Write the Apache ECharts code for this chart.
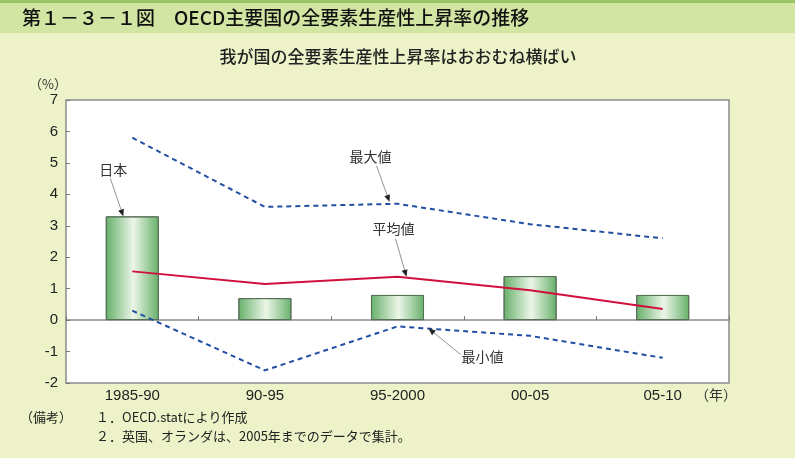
<!DOCTYPE html>
<html>
<head>
<meta charset="utf-8">
<script src="https://cdn.jsdelivr.net/npm/echarts@6/dist/echarts.min.js"></script>
<style>
  html, body { margin: 0; padding: 0; background: #eef2c8; }
  #main { width: 795px; height: 458px; }
</style>
</head>
<body>
<div id="main"></div>
<script>
// 期間
const periods = ['1985-90', '90-95', '95-2000', '00-05', '05-10'];
// 日本（棒）
const japan = [3.3, 0.7, 0.8, 1.4, 0.8];
// OECD主要国の最大値・平均値・最小値
const maxVals = [5.8, 3.6, 3.7, 3.05, 2.6];
const avgVals = [1.55, 1.15, 1.38, 0.95, 0.35];
const minVals = [0.3, -1.6, -0.2, -0.5, -1.2];
const yTicks = { min: -2, max: 7, interval: 1 };

const FONT = '"Noto Sans CJK JP", "Noto Sans", sans-serif';
const myChart = echarts.init(document.getElementById('main'));

const option = {
  backgroundColor: '#eef2c8',
  animation: false,
  textStyle: { fontFamily: FONT },
  grid: {
    left: 66, right: 66, top: 100, bottom: 75,
    show: true, backgroundColor: '#fff', borderColor: '#8a8a8a', borderWidth: 1.5
  },
  xAxis: [
    {
      type: 'category', data: periods, position: 'bottom',
      axisLine: { show: false, onZero: false },
      axisTick: { show: false },
      axisLabel: { color: '#222', fontSize: 15, margin: 5, fontFamily: 'Liberation Sans, Arial' }
    },
    {
      // 0 の線と区切りの目盛
      type: 'category', data: periods, position: 'bottom',
      axisLine: { onZero: true, lineStyle: { color: '#8a8a8a', width: 1.5 } },
      axisTick: { show: true, inside: true, length: 4, lineStyle: { color: '#777' } },
      axisLabel: { show: false }
    }
  ],
  yAxis: {
    type: 'value', min: yTicks.min, max: yTicks.max, interval: yTicks.interval,
    axisLine: { show: false },
    axisTick: { show: true, inside: true, length: 4, lineStyle: { color: '#777' } },
    splitLine: { show: false },
    axisLabel: { color: '#222', fontSize: 15, margin: 8, fontFamily: 'Liberation Sans, Arial' }
  },
  series: [
    {
      name: '日本', type: 'bar', data: japan, barWidth: '40%', z: 2,
      itemStyle: {
        color: new echarts.graphic.LinearGradient(0, 0, 1, 0, [
          { offset: 0, color: '#66b06a' },
          { offset: 0.52, color: '#ecf6e8' },
          { offset: 1, color: '#66b06a' }
        ]),
        borderColor: '#587058', borderWidth: 1
      }
    },
    {
      name: '最大値', type: 'line', data: maxVals, symbol: 'none', z: 3,
      lineStyle: { color: '#1f4ea3', width: 2, type: [5, 4] }
    },
    {
      name: '平均値', type: 'line', data: avgVals, symbol: 'none', z: 3,
      lineStyle: { color: '#d0103c', width: 2 }
    },
    {
      name: '最小値', type: 'line', data: minVals, symbol: 'none', z: 3,
      lineStyle: { color: '#1f4ea3', width: 2, type: [5, 4] }
    }
  ]
};
myChart.setOption(option);

// 注記ラベル（矢印付き）
function pt(i, v) { return myChart.convertToPixel({ xAxisIndex: 0, yAxisIndex: 0 }, [i, v]); }
const notes = [
  { text: '日本', at: [0, japan[0]], tip: [-9, 0], label: [-10, -47], from: [-3, 9] },
  { text: '最大値', at: [2, maxVals[2]], tip: [-8, -2], label: [-19, -45], from: [6, 9] },
  { text: '平均値', at: [2, avgVals[2]], tip: [9, 0], label: [-13, -48], from: [2, 10] },
  { text: '最小値', at: [2, minVals[2]], tip: [31, 2], label: [54, 28], from: [-22, -2] }
];
const els = [];
notes.forEach(n => {
  const p = pt(n.at[0], n.at[1]);
  const tx = p[0] + n.tip[0], ty = p[1] + n.tip[1];
  const lx = tx + n.label[0], ly = ty + n.label[1];
  const sx = lx + n.from[0], sy = ly + n.from[1];
  const dx = tx - sx, dy = ty - sy, len = Math.sqrt(dx * dx + dy * dy);
  const ux = dx / len, uy = dy / len;
  const bx = tx - ux * 7, by = ty - uy * 7;
  els.push({
    type: 'text', x: lx, y: ly, z: 10,
    style: { text: n.text, fill: '#333', font: '14px ' + FONT, align: 'center', verticalAlign: 'middle' }
  });
  els.push({
    type: 'line', z: 10,
    shape: { x1: sx, y1: sy, x2: bx, y2: by },
    style: { stroke: '#777', lineWidth: 0.8 }
  });
  els.push({
    type: 'polygon', z: 10,
    shape: { points: [[tx, ty], [bx - uy * 3, by + ux * 3], [bx + uy * 3, by - ux * 3]] },
    style: { fill: '#222' }
  });
});

myChart.setOption({
  graphic: [
    // 見出し帯
    { type: 'rect', shape: { x: 0, y: 0, width: 795, height: 33 }, style: { fill: '#d3e5a2' } },
    { type: 'rect', shape: { x: 0, y: 0, width: 795, height: 3 }, style: { fill: '#9cc36a' } },
    {
      type: 'text', x: 22, y: 18,
      style: { text: '第１－３－１図　OECD主要国の全要素生産性上昇率の推移', fill: '#111', font: '500 19px ' + FONT, verticalAlign: 'middle' }
    },
    {
      type: 'text', x: 398, y: 57,
      style: { text: '我が国の全要素生産性上昇率はおおむね横ばい', fill: '#222', font: '500 17px ' + FONT, align: 'center', verticalAlign: 'middle' }
    },
    {
      type: 'text', x: 48, y: 84,
      style: { text: '（%）', fill: '#333', font: '13px ' + FONT, align: 'center', verticalAlign: 'middle' }
    },
    {
      type: 'text', x: 716, y: 395,
      style: { text: '（年）', fill: '#333', font: '14px ' + FONT, align: 'center', verticalAlign: 'middle' }
    },
    {
      type: 'text', x: 20, y: 417,
      style: { text: '（備考）', fill: '#222', font: '13px ' + FONT, verticalAlign: 'middle' }
    },
    {
      type: 'text', x: 96, y: 417,
      style: { text: '１．OECD.statにより作成', fill: '#222', font: '13px ' + FONT, verticalAlign: 'middle' }
    },
    {
      type: 'text', x: 96, y: 436,
      style: { text: '２．英国、オランダは、2005年までのデータで集計。', fill: '#222', font: '13px ' + FONT, verticalAlign: 'middle' }
    }
  ].concat(els)
});
</script>
</body>
</html>
